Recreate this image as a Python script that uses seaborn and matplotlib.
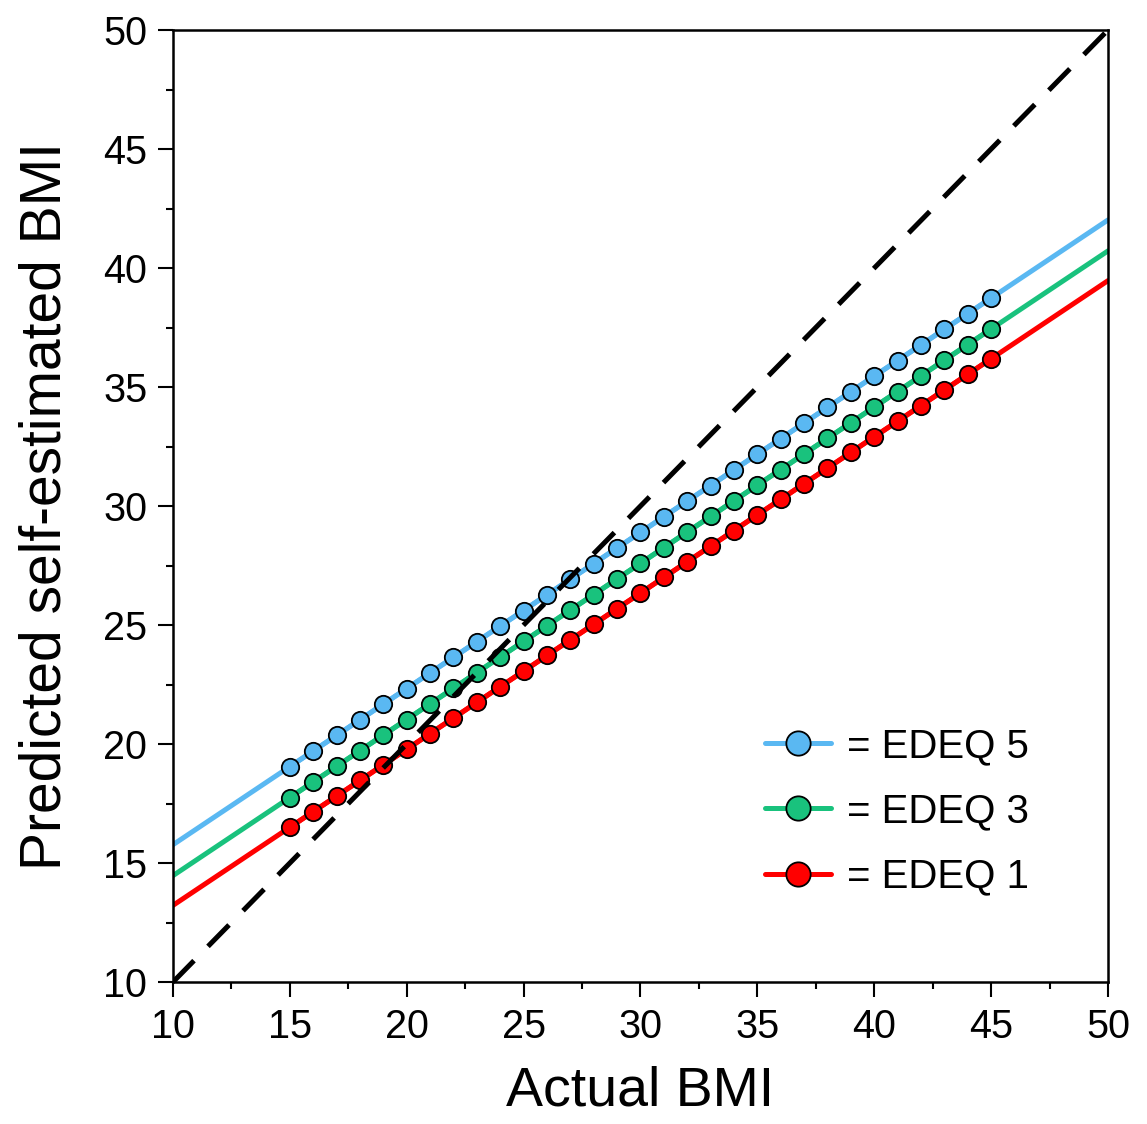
import numpy as np
import pandas as pd
import matplotlib
matplotlib.use('Agg')
import matplotlib.pyplot as plt
import seaborn as sns

# --- data ---
actual_bmi = list(range(15, 46))
edeq5 = [19.05, 19.71, 20.36, 21.02, 21.68, 22.33, 22.99, 23.64, 24.30, 24.96,
         25.61, 26.27, 26.93, 27.58, 28.24, 28.89, 29.55, 30.21, 30.86, 31.52,
         32.18, 32.83, 33.49, 34.14, 34.80, 35.46, 36.11, 36.77, 37.43, 38.08, 38.74]
edeq3 = [17.75, 18.41, 19.06, 19.72, 20.38, 21.03, 21.69, 22.34, 23.00, 23.66,
         24.31, 24.97, 25.63, 26.28, 26.94, 27.59, 28.25, 28.91, 29.56, 30.22,
         30.88, 31.53, 32.19, 32.84, 33.50, 34.16, 34.81, 35.47, 36.13, 36.78, 37.44]
edeq1 = [16.50, 17.16, 17.81, 18.47, 19.13, 19.78, 20.44, 21.09, 21.75, 22.41,
         23.06, 23.72, 24.38, 25.03, 25.69, 26.34, 27.00, 27.66, 28.31, 28.97,
         29.63, 30.28, 30.94, 31.59, 32.25, 32.91, 33.56, 34.22, 34.88, 35.53, 36.19]

# fitted lines over the full axis range
line_x = [10, 50]
edeq5_line = [15.77, 42.02]
edeq3_line = [14.47, 40.72]
edeq1_line = [13.22, 39.47]
identity = [10, 50]

labels = ['= EDEQ 5', '= EDEQ 3', '= EDEQ 1']
colors = ['#5ab8f2', '#19c27d', '#ff0000']

sns.set_style('ticks')
plt.rcParams['font.family'] = ['Liberation Sans', 'DejaVu Sans']
plt.rcParams['text.color'] = 'black'
plt.rcParams['axes.labelcolor'] = 'black'
plt.rcParams['xtick.color'] = 'black'
plt.rcParams['ytick.color'] = 'black'

fig = plt.figure(figsize=(11.47, 11.24), dpi=100)
ax = fig.add_axes([0.1508, 0.1263, 0.8152, 0.8470])

series = [(edeq5, edeq5_line), (edeq3, edeq3_line), (edeq1, edeq1_line)]
for (pts, ends), lab, col in zip(series, labels, colors):
    sns.lineplot(x=line_x, y=ends, color=col, lw=3.6, ax=ax, legend=False, zorder=2)
    sns.lineplot(x=actual_bmi, y=pts, color=col, lw=3.6, marker='o', markersize=12.5,
                 markeredgecolor='black', markeredgewidth=1.3, label=lab, ax=ax, zorder=3)

sns.lineplot(x=line_x, y=identity, color='black', lw=3.6, ax=ax, legend=False, zorder=4)
ax.lines[-1].set_dashes([6, 4])

ax.set_xlim(10, 50)
ax.set_ylim(10, 50)
ax.set_xticks(range(10, 51, 5))
ax.set_yticks(range(10, 51, 5))
ax.set_xticks(np.arange(12.5, 50, 5), minor=True)
ax.set_yticks(np.arange(12.5, 50, 5), minor=True)
ax.tick_params(which='major', direction='out', length=10.5, width=1.5, labelsize=28.5, pad=8,
               top=False, right=False)
ax.tick_params(which='minor', direction='out', length=5, width=1.5, top=False, right=False)
for s in ax.spines.values():
    s.set_linewidth(1.8)
    s.set_color('black')

ax.set_xlabel('Actual BMI', fontsize=40, labelpad=14)
ax.set_ylabel('Predicted self-estimated BMI', fontsize=41, labelpad=22)

ax.legend(loc='upper left', bbox_to_anchor=(0.633, 0.268), frameon=False, fontsize=29,
          handlelength=1.65, handletextpad=0.4, labelspacing=0.68, markerscale=1.4,
          borderpad=0, borderaxespad=0)

fig.savefig('out.png', dpi=100)
